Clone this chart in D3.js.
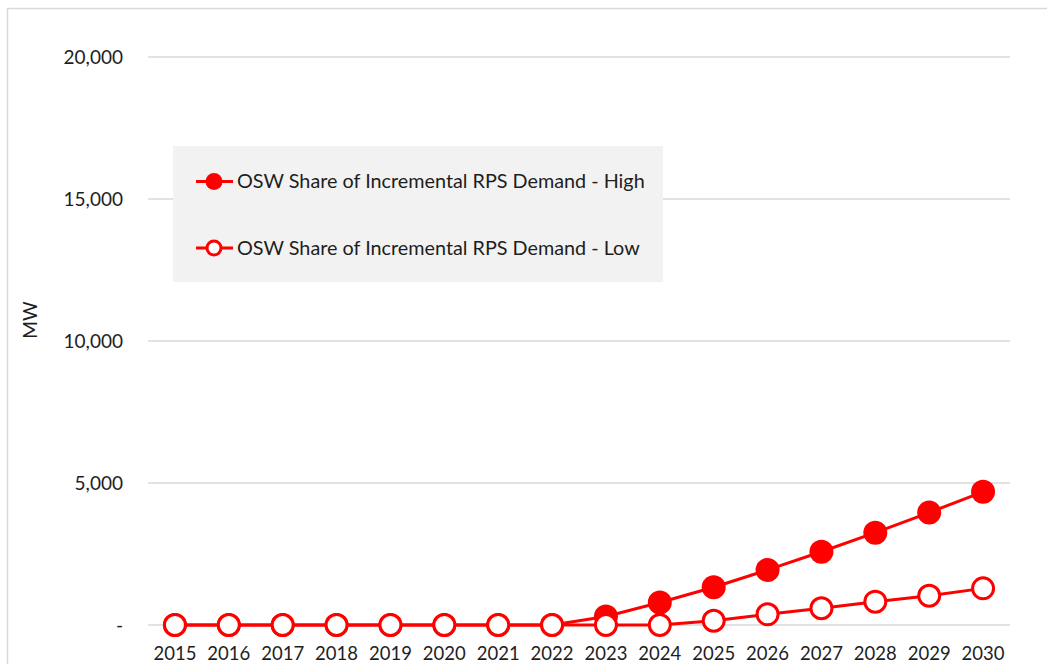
<!DOCTYPE html>
<meta charset="utf-8">
<style>
    body {
        margin: 0;
        background: #fff;
    }
    svg {
        font-family: Lato, "Noto Sans", sans-serif;
    }
    .grid line {
        stroke: #d9d9d9;
        stroke-width: 1.3;
    }
</style>
<body>
<script src="https://cdn.jsdelivr.net/npm/d3@7"></script>
<script>
    // values
    const years = ["2015", "2016", "2017", "2018", "2019", "2020", "2021", "2022",
                   "2023", "2024", "2025", "2026", "2027", "2028", "2029", "2030"];
    const highMW = [0, 0, 0, 0, 0, 0, 0, 0, 300, 790, 1330, 1940, 2580, 3250, 3960, 4690];
    const lowMW  = [0, 0, 0, 0, 0, 0, 0, 0, 0, 0, 150, 375, 590, 820, 1030, 1290];
    const yTicks = [0, 5000, 10000, 15000, 20000];
    const seriesNames = ["OSW Share of Incremental RPS Demand - High",
                         "OSW Share of Incremental RPS Demand - Low"];

    const width = 1047, height = 664;
    const margin = {top: 57, right: 1010, bottom: 625, left: 148}; // plot edges in px
    const red = "#ff0000";

    const svg = d3.select("body").append("svg")
        .attr("width", width)
        .attr("height", height);

    // chart frame (only top and left visible in the crop)
    svg.append("path")
        .attr("d", "M7.5," + height + "V8.5H" + width)
        .attr("fill", "none")
        .attr("stroke", "#d9d9d9")
        .attr("stroke-width", 1.5);

    const x = d3.scaleBand().domain(years).range([margin.left, margin.right]).padding(0);
    const y = d3.scaleLinear().domain([0, 20000]).range([margin.bottom, margin.top]);
    const cx = (d, i) => x(years[i]) + x.bandwidth() / 2;

    const fmt = d3.format(",");

    // gridlines + y labels
    svg.append("g").attr("class", "grid")
        .selectAll("line")
        .data(yTicks)
        .enter().append("line")
        .attr("x1", margin.left)
        .attr("x2", margin.right)
        .attr("y1", d => y(d))
        .attr("y2", d => y(d));

    svg.append("g")
        .selectAll("text")
        .data(yTicks)
        .enter().append("text")
        .attr("x", 123)
        .attr("y", d => y(d))
        .attr("dy", "0.35em")
        .attr("text-anchor", "end")
        .attr("font-size", 19)
        .attr("fill", "#1e1e1e")
        .text(d => d === 0 ? "-" : fmt(d));

    // x labels
    svg.append("g")
        .selectAll("text")
        .data(years)
        .enter().append("text")
        .attr("x", d => x(d) + x.bandwidth() / 2)
        .attr("y", 660)
        .attr("text-anchor", "middle")
        .attr("font-size", 18.5)
        .attr("fill", "#1e1e1e")
        .text(d => d);

    // axis title
    svg.append("text")
        .attr("transform", "translate(37,320) rotate(-90)")
        .attr("text-anchor", "middle")
        .attr("font-size", 19)
        .attr("fill", "#1e1e1e")
        .text("MW");

    const line = d3.line()
        .x(cx)
        .y(d => y(d));

    // high series (filled)
    svg.append("path")
        .datum(highMW)
        .attr("d", line)
        .attr("fill", "none")
        .attr("stroke", red)
        .attr("stroke-width", 3);

    svg.append("g")
        .selectAll("circle")
        .data(highMW)
        .enter().append("circle")
        .attr("cx", cx)
        .attr("cy", d => y(d))
        .attr("r", 12)
        .attr("fill", red);

    // low series (open)
    svg.append("path")
        .datum(lowMW)
        .attr("d", line)
        .attr("fill", "none")
        .attr("stroke", red)
        .attr("stroke-width", 3);

    svg.append("g")
        .selectAll("circle")
        .data(lowMW)
        .enter().append("circle")
        .attr("cx", cx)
        .attr("cy", d => y(d))
        .attr("r", 10.5)
        .attr("fill", "#fff")
        .attr("stroke", red)
        .attr("stroke-width", 3);

    // legend
    const legend = svg.append("g");
    legend.append("rect")
        .attr("x", 173)
        .attr("y", 146)
        .attr("width", 490)
        .attr("height", 136)
        .attr("fill", "#f2f2f2");

    const items = legend.selectAll(".item")
        .data(seriesNames)
        .enter().append("g")
        .attr("class", "item")
        .attr("transform", (d, i) => "translate(0," + (181.5 + i * 66.5) + ")");

    items.append("line")
        .attr("x1", 196)
        .attr("x2", 233)
        .attr("stroke", red)
        .attr("stroke-width", 3);

    items.append("circle")
        .attr("cx", 214)
        .attr("r", (d, i) => i === 0 ? 8.5 : 7)
        .attr("fill", (d, i) => i === 0 ? red : "#fff")
        .attr("stroke", red)
        .attr("stroke-width", (d, i) => i === 0 ? 0 : 3);

    items.append("text")
        .attr("x", 237)
        .attr("dy", "0.35em")
        .attr("font-size", 19.8)
        .attr("fill", "#1e1e1e")
        .text(d => d);
</script>
</body>
</html>
